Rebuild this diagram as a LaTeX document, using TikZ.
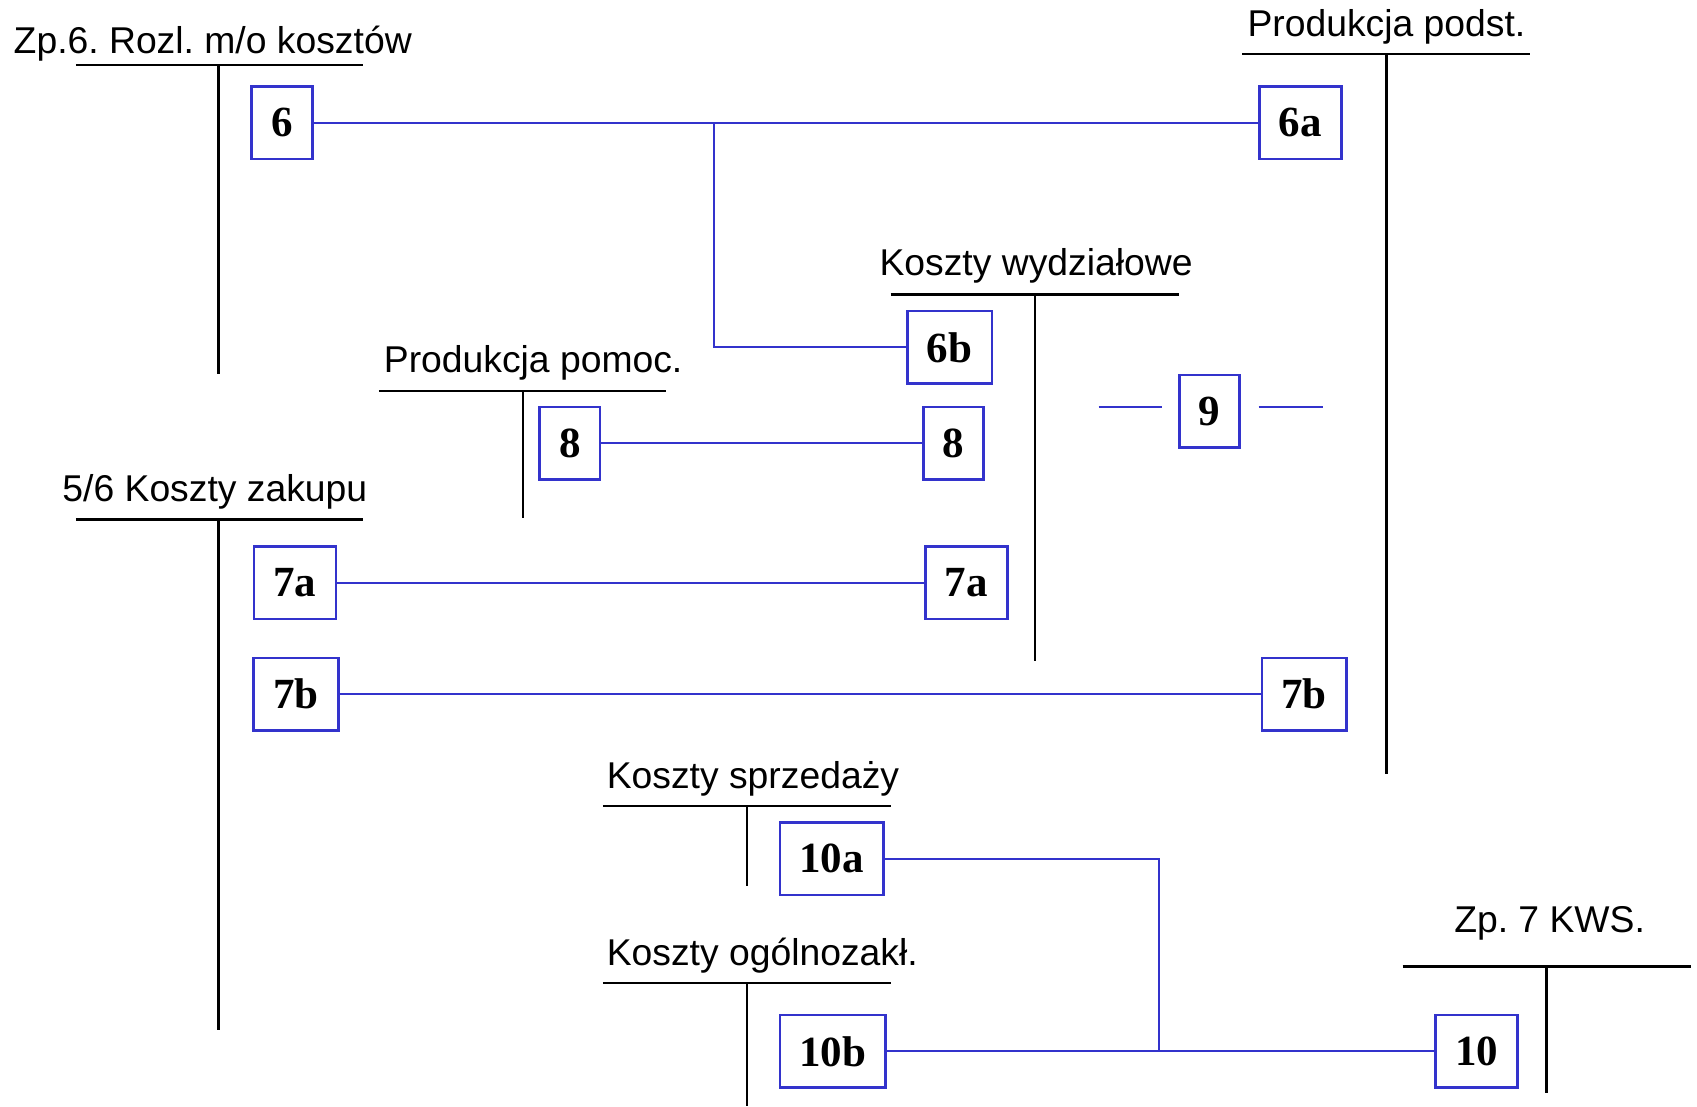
\documentclass[tikz,border=0pt]{standalone}
\usepackage{fontspec}
\setmainfont{Liberation Sans}
\newfontfamily\boxfont{Liberation Serif}
\definecolor{linkblue}{RGB}{51,51,204}
\frenchspacing
\begin{document}
\begin{tikzpicture}[x=0.01cm,y=-0.01cm,
  acct/.style={draw=black,line width=0.6pt},
  title/.style={anchor=base west,inner sep=0pt,font=\fontsize{9.8}{12}\selectfont},
  entry/.style={draw=linkblue,line width=0.7pt,fill=white,inner xsep=0.18cm,inner ysep=0pt,
    minimum height=0.67cm,font=\boxfont\bfseries\fontsize{11.3}{13}\selectfont},
  link/.style={draw=linkblue,line width=0.5pt}]
\useasboundingbox (0,0) rectangle (1568,1022);

% T-accounts: title, horizontal bar, vertical divider
\node[title] (tZp6) at (12,49) {Zp.6. Rozl. m/o kosztów};
\draw[acct] (70,60) -- (335,60) (202,60) -- (202,346);

\node[title] (tPodst) at (1152,34) {Produkcja podst.};
\draw[acct] (1148,50) -- (1414,50) (1281,50) -- (1281,715);

\node[title] (tWydz) at (812,255) {Koszty wydziałowe};
\draw[acct] (823,272) -- (1089,272) (956,272) -- (956,611);

\node[title] (tPomoc) at (354,344) {Produkcja pomoc.};
\draw[acct] (350,361) -- (615,361) (483,361) -- (483,479);

\node[title] (tZakup) at (57,463) {5/6 Koszty zakupu};
\draw[acct] (70,480) -- (335,480) (202,480) -- (202,952);

\node[title] (tSprz) at (560,729) {Koszty sprzedaży};
\draw[acct] (557,745) -- (823,745) (690,745) -- (690,819);

\node[title] (tOgol) at (560,892) {Koszty ogólnozakł.};
\draw[acct] (557,908) -- (823,908) (690,908) -- (690,1022);

\node[title] (tKws) at (1343,862) {Zp. 7 KWS.};
\draw[acct] (1296,893) -- (1562,893) (1429,893) -- (1429,1010);

% free ends and junctions of the connectors
\coordinate (j6) at (660,113.5);
\coordinate (j10) at (1071,971.5);
\coordinate (n9a) at (1015,376);
\coordinate (n9b) at (1074,376);
\coordinate (n9c) at (1163,376);
\coordinate (n9d) at (1222,376);

% entries
\node[entry] (b6)   at (260.5,113.5) {6};
\node[entry] (b6a)  at (1201.5,113.5) {6a};
\node[entry] (b6b)  at (877.5,321) {6b};
\node[entry] (b8l)  at (526.5,409.5) {8};
\node[entry] (b8r)  at (881,409.5) {8};
\node[entry] (b9)   at (1117.5,380) {9};
\node[entry] (b7al) at (272.5,538.5) {7a};
\node[entry] (b7ar) at (893,538.5) {7a};
\node[entry] (b7bl) at (273.5,641.5) {7b};
\node[entry] (b7br) at (1205,641.5) {7b};
\node[entry] (b10a) at (768.5,793.5) {10a};
\node[entry] (b10b) at (769.5,971.5) {10b};
\node[entry] (b10)  at (1364.5,971.5) {10};

\draw[link] (b6.east) -- (b6a.west);
\draw[link] (j6) |- (b6b.west);
\draw[link] (b8l.east) -- (b8r.west);
\draw[link] (b7al.east) -- (b7ar.west);
\draw[link] (b7bl.east) -- (b7br.west);
\draw[link] (b10a.east) -| (j10);
\draw[link] (b10b.east) -- (b10.west);
\draw[link] (n9a) -- (n9b);
\draw[link] (n9c) -- (n9d);
\end{tikzpicture}
\end{document}
